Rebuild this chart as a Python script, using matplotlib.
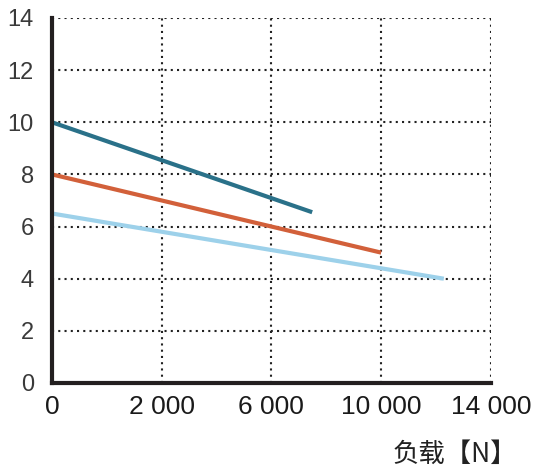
import numpy as np
import matplotlib.pyplot as plt

plt.rcParams['font.family'] = ['Liberation Sans', 'Noto Sans CJK SC', 'DejaVu Sans']

# 轴刻度（按原图标注）
x_ticks = [0, 3500, 7000, 10500, 14000]
x_labels = ['0', '2 000', '6 000', '10 000', '14 000']
y_ticks = [0, 2, 4, 6, 8, 10, 12, 14]

# 三条曲线
x_dark = [0, 8300]
y_dark = [10.0, 6.55]
x_orange = [0, 10500]
y_orange = [8.0, 5.0]
x_light = [0, 12500]
y_light = [6.5, 4.0]

fig = plt.figure(figsize=(5.4, 4.73), dpi=100)
ax = fig.add_axes([0.0963, 0.1903, 0.8127, 0.7717])

ax.plot(x_light, y_light, color='#9dd1ea', lw=3, solid_capstyle='butt')
ax.plot(x_orange, y_orange, color='#d2603a', lw=3, solid_capstyle='butt')
ax.plot(x_dark, y_dark, color='#2a7189', lw=3, solid_capstyle='butt')

ax.set_xlim(0, 14000)
ax.set_ylim(0, 14)
ax.set_xticks(x_ticks)
ax.set_xticklabels(x_labels)
ax.set_yticks(y_ticks)

ax.grid(True, color='#222222', linestyle=(0, (1, 2.0)), lw=1.5)
ax.set_axisbelow(True)

for s in ['top', 'right']:
    ax.spines[s].set_visible(False)
for s in ['left', 'bottom']:
    ax.spines[s].set_linewidth(3)
    ax.spines[s].set_color('#231f20')

ax.tick_params(axis='y', length=0, pad=13, labelsize=17, labelcolor='#3a3a3a')
ax.tick_params(axis='x', length=0, pad=9, labelsize=19, labelcolor='#1a1a1a')

fig.text(0.958, 0.01, '负载【N】', ha='right', va='bottom', fontsize=19,
         family=['Noto Sans CJK SC', 'DejaVu Sans'], color='#222222')

plt.savefig('out.png', dpi=100)
